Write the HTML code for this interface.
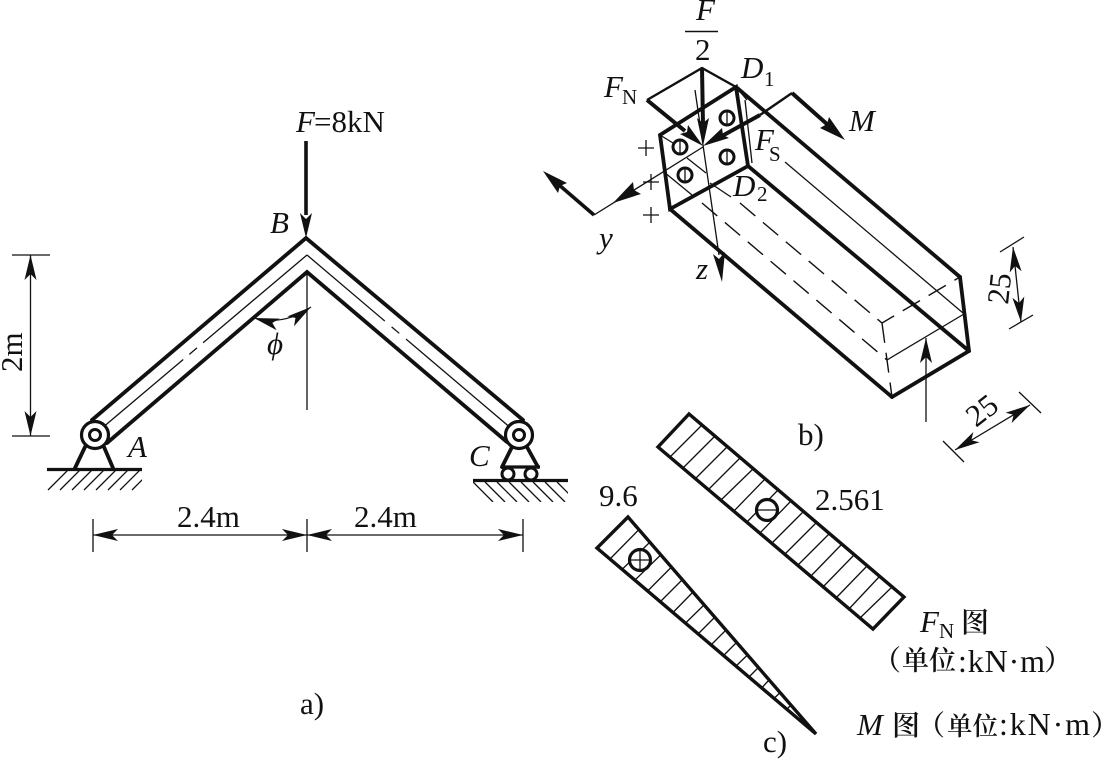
<!DOCTYPE html>
<html>
<head>
<meta charset="utf-8">
<style>
html,body{margin:0;padding:0;background:#fff;}
svg{display:block;}
text{font-family:"Liberation Serif","Noto Serif CJK SC",serif;fill:#111;font-size:31px;}
.i{font-style:italic;}
.s{font-size:21px;}
.c{font-size:28px;font-weight:600;}
.u{font-size:32px;}
.th{stroke:#111;stroke-width:3.8;fill:none;stroke-linecap:round;stroke-linejoin:miter;}
.md{stroke:#111;stroke-width:2.4;fill:none;}
.t{stroke:#111;stroke-width:1.3;fill:none;}
.d{stroke:#111;stroke-width:1.4;fill:none;stroke-dasharray:20 10;}
</style>
</head>
<body>
<svg width="1105" height="760" viewBox="0 0 1105 760" xmlns="http://www.w3.org/2000/svg">
<defs>
<marker id="a" markerUnits="userSpaceOnUse" markerWidth="30" markerHeight="14" refX="25" refY="6" orient="auto-start-reverse">
<path d="M25,6 L0,0 L6,6 L0,12 Z" fill="#111"/>
</marker>
<clipPath id="ca"><rect x="47" y="470" width="95" height="21"/></clipPath>
<clipPath id="cc"><rect x="473" y="481" width="95" height="21"/></clipPath>
</defs>

<!-- a) frame -->
<polyline class="th" points="92,420 306,238 523,420"/>
<polyline class="th" points="107,443 307,272 507,442"/>
<path class="t" d="M307,255 L95,434" stroke-dasharray="136 8 10 8 300"/>
<path class="t" d="M307,255 L519,435" stroke-dasharray="102 9 10 9 300"/>
<line class="t" x1="307" y1="272" x2="307" y2="410"/>

<!-- hinge A -->
<circle cx="95" cy="435" r="13.5" fill="#fff" stroke="#111" stroke-width="3.2"/>
<circle cx="95" cy="435" r="5.5" fill="#fff" stroke="#111" stroke-width="3"/>
<path class="th" d="M85,447 L75,468 M104,447 L113,468" stroke-linecap="butt"/>
<line x1="47" y1="469.5" x2="142" y2="469.5" stroke="#111" stroke-width="3.2"/>
<g clip-path="url(#ca)">
<path class="t" d="M48,490 L69,469 M60,490 L81,469 M72,490 L93,469 M84,490 L105,469 M96,490 L117,469 M108,490 L129,469 M120,490 L141,469 M132,490 L153,469"/>
</g>

<!-- hinge C -->
<circle cx="519" cy="435" r="13.5" fill="#fff" stroke="#111" stroke-width="3.2"/>
<circle cx="519" cy="435" r="5.5" fill="#fff" stroke="#111" stroke-width="3"/>
<path class="th" d="M512,447 L502,467 M527,447 L538,467" stroke-linecap="butt"/>
<line x1="501" y1="467" x2="540" y2="467" stroke="#111" stroke-width="3.2"/>
<circle cx="508" cy="474" r="6" fill="#fff" stroke="#111" stroke-width="3"/>
<circle cx="531" cy="474" r="6" fill="#fff" stroke="#111" stroke-width="3"/>
<line x1="473" y1="480.5" x2="568" y2="480.5" stroke="#111" stroke-width="3.2"/>
<g clip-path="url(#cc)">
<path class="t" d="M473,482 L493,502 M485,482 L505,502 M497,482 L517,502 M509,482 L529,502 M521,482 L541,502 M533,482 L553,502 M545,482 L565,502 M557,482 L577,502"/>
</g>

<!-- force F -->
<line x1="306" y1="141" x2="306" y2="215" stroke="#111" stroke-width="3.6"/>
<path d="M306,238 L300,213 L306,219 L312,213 Z" fill="#111"/>
<path class="t" d="M254,318 Q284,326 311,307" marker-start="url(#a)" marker-end="url(#a)"/>

<!-- dimensions a -->
<line class="t" x1="12" y1="255" x2="50" y2="255"/>
<line class="t" x1="12" y1="436" x2="50" y2="436"/>
<line class="t" x1="30.5" y1="255" x2="30.5" y2="436" marker-start="url(#a)" marker-end="url(#a)"/>
<line class="t" x1="93" y1="519" x2="93" y2="552"/>
<line class="t" x1="307" y1="519" x2="307" y2="552"/>
<line class="t" x1="523" y1="519" x2="523" y2="552"/>
<line class="t" x1="93" y1="535" x2="307" y2="535" marker-start="url(#a)" marker-end="url(#a)"/>
<line class="t" x1="307" y1="535" x2="523" y2="535" marker-start="url(#a)" marker-end="url(#a)"/>

<text class="i" x="296" y="132">F</text><text x="314" y="132">=8kN</text>
<text class="i" x="270" y="233">B</text>
<text class="i" x="128" y="457">A</text>
<text class="i" x="469" y="466">C</text>
<text class="i" x="267" y="354">ϕ</text>
<text x="177" y="527">2.4m</text>
<text x="354" y="527">2.4m</text>
<text transform="translate(22,372) rotate(-90)">2m</text>
<text x="300" y="714">a)</text>

<!-- b) box -->
<polygon class="th" points="660,135 736,87 748,166 670,209"/>
<line class="th" x1="736" y1="87" x2="960" y2="277"/>
<line class="th" x1="748" y1="166" x2="969" y2="351"/>
<line class="th" x1="670" y1="209" x2="892" y2="397"/>
<polyline class="th" points="960,277 969,351 892,397"/>
<path class="d" d="M740,203 L882,323 L960,277"/>
<line class="d" x1="882" y1="323" x2="892" y2="397"/>
<line class="d" x1="702" y1="203" x2="887" y2="360"/>
<line class="t" x1="785" y1="162" x2="963" y2="313"/>
<line class="t" x1="887" y1="360" x2="964" y2="314"/>
<line class="t" x1="745" y1="100" x2="752" y2="163"/>
<line class="t" x1="736" y1="87" x2="747" y2="100"/>
<path class="t" d="M664,172 L692,195 M687,158 L706,173 M660,135 L673,143 M710,183 L731,197"/>
<!-- bolts -->
<g fill="#fff" stroke="#111" stroke-width="3">
<circle cx="727" cy="118" r="7"/><circle cx="680" cy="147" r="7"/><circle cx="727" cy="157" r="7"/><circle cx="685" cy="175" r="7"/>
</g>
<path class="t" d="M727,112 L727,124 M680,141 L680,153 M727,151 L727,163 M685,169 L685,181"/>
<!-- vectors -->
<path class="md" d="M647,100 L702,68 L736,87"/>
<path class="md" d="M792,93 L760,115" stroke-width="1.8"/>
<line x1="702" y1="68" x2="703" y2="125" stroke="#111" stroke-width="4"/>
<path d="M703,146 L697,118 L703,123 L709,118 Z" fill="#111"/>
<line x1="647" y1="100" x2="685" y2="131" stroke="#111" stroke-width="4"/>
<path d="M703,146 L680,134 L687,132 L688,125 Z" fill="#111"/>
<line x1="760" y1="115" x2="722" y2="136" stroke="#111" stroke-width="4"/>
<path d="M703,146 L722,128 L723,135 L729,138 Z" fill="#111"/>
<line x1="792" y1="93" x2="828" y2="125" stroke="#111" stroke-width="4"/>
<path d="M845,140 L820,128 L827,124 L829,117 Z" fill="#111"/>
<line class="t" x1="703" y1="147" x2="594" y2="215"/>
<path d="M613,203 L633,182 L634,190 L641,194 Z" fill="#111"/>
<line x1="594" y1="215" x2="558" y2="184" stroke="#111" stroke-width="3.6"/>
<path d="M543,171 L567,183 L560,186 L558,193 Z" fill="#111"/>
<line class="t" x1="695" y1="90" x2="719" y2="255"/>
<path d="M722,282 L713,254 L719,259 L725,252 Z" fill="#111"/>

<text class="i" x="696" y="20">F</text>
<line x1="685" y1="31.5" x2="718" y2="31.5" stroke="#111" stroke-width="1.4"/>
<text x="695" y="60">2</text>
<text class="i" x="741" y="78">D</text><text class="s" x="764" y="86">1</text>
<text class="i" x="604" y="97">F</text><text class="s" x="622" y="104">N</text>
<text class="i" x="849" y="131">M</text>
<text class="i" x="755" y="150">F</text><text class="s" x="769" y="161">S</text>
<text class="i" x="733" y="196">D</text><text class="s" x="757" y="201">2</text>
<text class="i" x="599" y="248">y</text>
<text class="i" x="696" y="279">z</text>
<path class="t" stroke-width="1.6" d="M638,148 H654 M646,140 V156 M643,182 H659 M651,174 V190 M643,215 H659 M651,207 V223"/>

<!-- dims b -->
<line class="t" x1="926" y1="422" x2="926" y2="338" marker-end="url(#a)"/>
<line class="t" x1="1000" y1="252" x2="1024" y2="237"/>
<line class="t" x1="1009" y1="329" x2="1033" y2="315"/>
<line class="t" x1="1013" y1="247" x2="1021" y2="322" marker-start="url(#a)" marker-end="url(#a)"/>
<line class="t" x1="943" y1="441" x2="964" y2="462"/>
<line class="t" x1="1019" y1="392" x2="1041" y2="413"/>
<line class="t" x1="955" y1="450" x2="1030" y2="405" marker-start="url(#a)" marker-end="url(#a)"/>
<text transform="translate(1008,305) rotate(-84)">25</text>
<text transform="translate(976,428) rotate(-38)">25</text>
<text x="798" y="445">b)</text>

<!-- FN diagram -->
<polygon class="th" points="689,414 658,447 873,629 904,597" style="stroke-width:3.4"/>
<path class="t" d="M702,425 L670,457 M715,436 L683,468 M727,447 L695,479 M740,458 L708,490 M753,469 L720,501 M765,479 L733,512 M778,490 L746,523 M791,501 L759,534 M803,512 L771,544 M816,523 L784,555 M829,534 L797,566 M841,545 L810,577 M854,555 L822,588 M867,566 L835,599 M879,577 L848,610 M892,587 L860,618"/>
<circle cx="767" cy="510" r="10.5" fill="#fff" stroke="#111" stroke-width="3.2"/>
<line class="t" x1="757" y1="510" x2="777" y2="510"/>

<!-- M diagram -->
<path class="t" d="M639,529.5 L610,559 M650,542 L622,569.5 M661,554.6 L635,580 M671.5,567 L647.6,591 M682,580 L660,602 M693,592 L673,612.5 M704,605 L685.6,623 M715,617 L698,634 M726,630 L711,645 M737,642 L723.6,655.5 M747.5,655 L736,666 M758.4,667.5 L749,677 M769,680 L761.6,688 M780,692.6 L774,698.5 M791,705 L787,709"/>
<polygon class="th" points="628,517 597,548 816,734" style="stroke-width:3.4"/>
<circle cx="640" cy="560" r="10.5" fill="#fff" stroke="#111" stroke-width="3.2"/>
<path class="t" d="M630,560 H650 M640,550 V570"/>

<text x="815" y="510">2.561</text>
<text x="599" y="506">9.6</text>
<text class="i" x="920" y="632">F</text><text class="s" x="939" y="638">N</text><text class="c" x="961" y="632">图</text>
<text class="c" x="873" y="670">（</text><text class="c" x="902" y="670" style="font-size:27px">单位</text><text class="u" x="958" y="672" textLength="87">:kN·m</text><text class="c" x="1044" y="670">）</text>
<text class="i" x="857" y="735">M</text><text class="c" x="892" y="735">图</text><text class="c" x="917" y="735">（</text><text class="c" x="947" y="735" style="font-size:25.5px">单位</text><text class="u" x="999" y="735" textLength="91">:kN·m</text><text class="c" x="1091" y="735">）</text>
<text x="763" y="752">c)</text>
</svg>
</body>
</html>
